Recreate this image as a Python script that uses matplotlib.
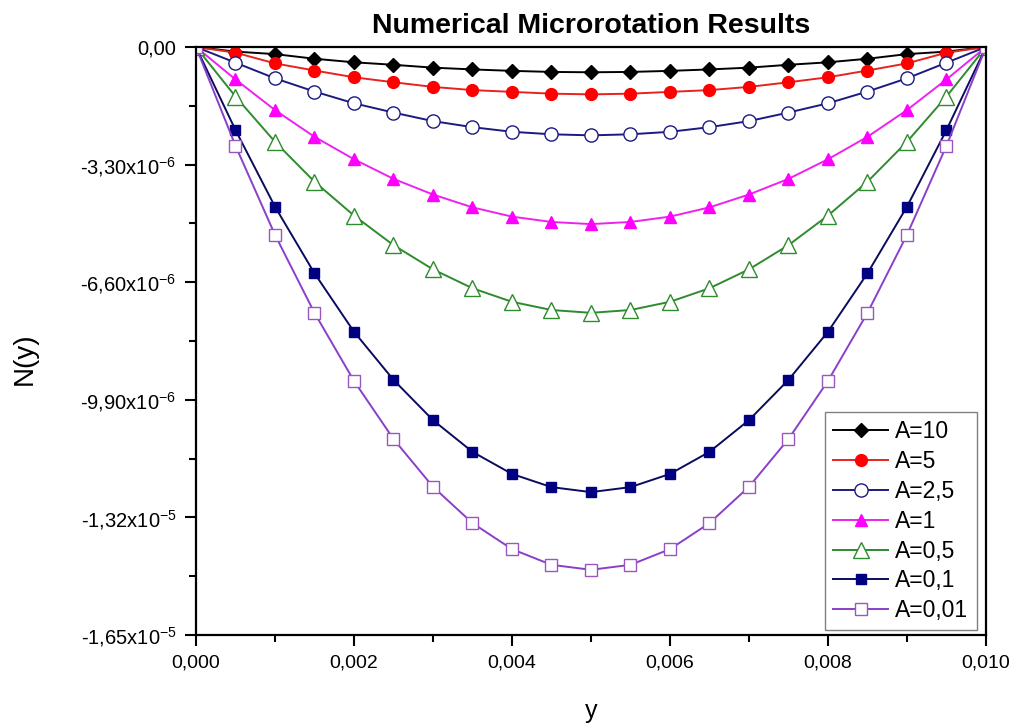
import numpy as np
import matplotlib
matplotlib.use('Agg')
import matplotlib.pyplot as plt
from matplotlib.ticker import FixedLocator

plt.rcParams['font.family'] = ['Liberation Sans', 'DejaVu Sans']
plt.rcParams['mathtext.fontset'] = 'custom'
plt.rcParams['mathtext.rm'] = 'Liberation Sans'

# y positions (m)
y_pos = [0.0, 0.0005, 0.0010, 0.0015, 0.0020, 0.0025, 0.0030, 0.0035, 0.0040, 0.0045, 0.0050,
         0.0055, 0.0060, 0.0065, 0.0070, 0.0075, 0.0080, 0.0085, 0.0090, 0.0095, 0.0100]

# N(y) values in units of 1e-6
n_a10 = [0, -0.13, -0.20, -0.33, -0.43, -0.50, -0.58, -0.63, -0.67, -0.70, -0.71,
         -0.70, -0.67, -0.63, -0.58, -0.50, -0.43, -0.33, -0.20, -0.13, 0]
n_a5 = [0, -0.16, -0.46, -0.66, -0.85, -0.99, -1.12, -1.21, -1.26, -1.31, -1.33,
        -1.31, -1.26, -1.21, -1.12, -0.99, -0.85, -0.66, -0.46, -0.16, 0]
n_a25 = [0, -0.44, -0.88, -1.25, -1.58, -1.84, -2.08, -2.25, -2.38, -2.45, -2.48,
         -2.45, -2.38, -2.25, -2.08, -1.84, -1.58, -1.25, -0.88, -0.44, 0]
n_a1 = [0, -0.91, -1.77, -2.52, -3.15, -3.70, -4.14, -4.50, -4.76, -4.91, -4.97,
        -4.91, -4.76, -4.50, -4.14, -3.70, -3.15, -2.52, -1.77, -0.91, 0]
n_a05 = [0, -1.39, -2.66, -3.78, -4.73, -5.56, -6.24, -6.77, -7.15, -7.38, -7.46,
         -7.38, -7.15, -6.77, -6.24, -5.56, -4.73, -3.78, -2.66, -1.39, 0]
n_a01 = [0, -2.33, -4.48, -6.35, -7.99, -9.34, -10.47, -11.36, -11.98, -12.35, -12.49,
         -12.35, -11.98, -11.36, -10.47, -9.34, -7.99, -6.35, -4.48, -2.33, 0]
n_a001 = [0, -2.77, -5.27, -7.46, -9.37, -11.00, -12.34, -13.36, -14.09, -14.53, -14.67,
          -14.53, -14.09, -13.36, -12.34, -11.00, -9.37, -7.46, -5.27, -2.77, 0]

labels = ['A=10', 'A=5', 'A=2,5', 'A=1', 'A=0,5', 'A=0,1', 'A=0,01']

x_ticks = [0.0, 0.002, 0.004, 0.006, 0.008, 0.010]
x_ticklabels = ['0,000', '0,002', '0,004', '0,006', '0,008', '0,010']
y_ticks = [0.0, -3.3e-6, -6.6e-6, -9.9e-6, -1.32e-5, -1.65e-5]
y_ticklabels = ['0,00', '-3,30x10$^{-6}$', '-6,60x10$^{-6}$', '-9,90x10$^{-6}$',
                '-1,32x10$^{-5}$', '-1,65x10$^{-5}$']

# 样式
styles = [
    dict(color='black', marker='D', mfc='black', mec='black', ms=7),
    dict(color='#e8231e', marker='o', mfc='#ff0000', mec='#ff0000', ms=8.5),
    dict(color='#1a1a80', marker='o', mfc='white', mec='#1a1a80', ms=9.5),
    dict(color='#ee22ee', marker='^', mfc='#ff00ff', mec='#ff00ff', ms=9),
    dict(color='#2e8b2e', marker='^', mfc='white', mec='#2e8b2e', ms=11),
    dict(color='#0b0b5e', marker='s', mfc='#000080', mec='#000080', ms=7),
    dict(color='#8a3fc8', marker='s', mfc='white', mec='#9b55c0', ms=8.5),
]

fig = plt.figure(figsize=(10.17, 7.25), dpi=100)
ax = fig.add_axes([0.1927, 0.1241, 0.7768, 0.8111])

series = [n_a10, n_a5, n_a25, n_a1, n_a05, n_a01, n_a001]
for vals, lab, st in zip(series, labels, styles):
    ax.plot(y_pos, np.array(vals) * 1e-6, label=lab, lw=1.4, mew=1.0, **st)

ax.set_xlim(0, 0.010)
ax.set_ylim(-1.65e-5, 0)
ax.set_xticks(x_ticks)
ax.set_xticklabels(x_ticklabels)
ax.set_yticks(y_ticks)
ax.set_yticklabels(y_ticklabels)
ax.xaxis.set_minor_locator(FixedLocator([0.001, 0.003, 0.005, 0.007, 0.009]))
ax.yaxis.set_minor_locator(FixedLocator([-1.65e-6, -4.95e-6, -8.25e-6, -1.155e-5, -1.485e-5]))
ax.tick_params(which='major', direction='out', length=8, width=1.5, pad=6)
ax.tick_params(axis='y', labelsize=14.5)
ax.tick_params(axis='x', labelsize=14)
ax.tick_params(which='minor', direction='out', length=5, width=1.5)
for sp in ax.spines.values():
    sp.set_linewidth(1.6)

ax.set_xlabel('y', fontsize=18, labelpad=20)
ax.set_ylabel('N(y)', fontsize=20)
ax.yaxis.set_label_coords(-0.2, 0.47)
ax.set_title('Numerical Microrotation Results', fontsize=20.5, fontweight='bold', pad=10)

leg = ax.legend(loc='lower right', bbox_to_anchor=(0.988, 0.008), fontsize=16.5,
                fancybox=False, edgecolor='#808080', framealpha=1, handlelength=2.4,
                handletextpad=0.3, labelspacing=0.3, borderpad=0.35, borderaxespad=0)
leg.get_frame().set_linewidth(1.0)

fig.savefig('out.png', dpi=100)
